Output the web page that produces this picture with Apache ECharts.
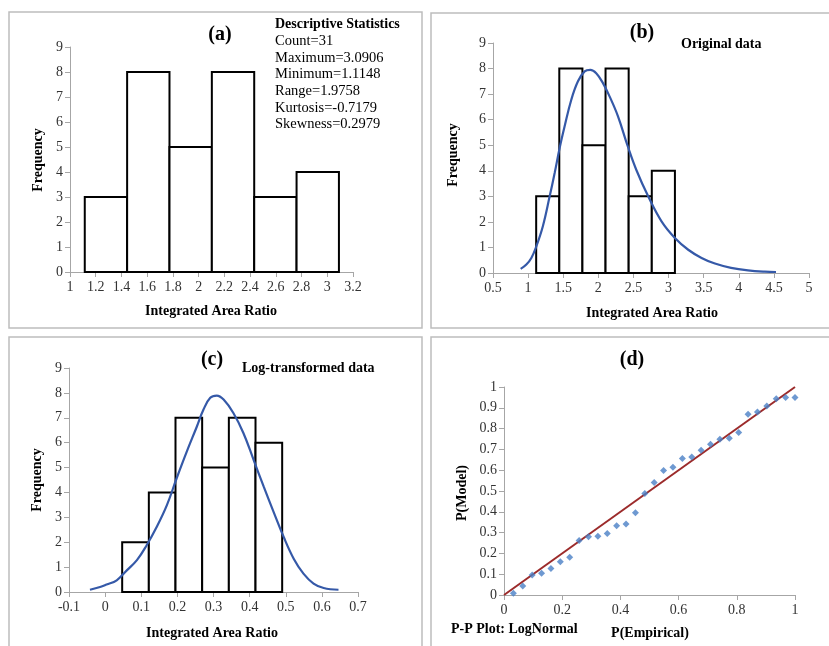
<!DOCTYPE html>
<html>
<head>
<meta charset="utf-8">
<script src="https://cdn.jsdelivr.net/npm/echarts@6/dist/echarts.min.js"></script>
<style>html,body{margin:0;padding:0;background:#fff;}#c{width:829px;height:646px;}</style>
</head>
<body>
<div id="c"></div>
<script>
// ---- data ----
const edgesA = [1.1148, 1.4441, 1.7734, 2.1027, 2.4320, 2.7613, 3.0906];
const countsA = [3, 8, 5, 8, 3, 4];
const statsLines = ["Count=31", "Maximum=3.0906", "Minimum=1.1148", "Range=1.9758", "Kurtosis=-0.7179", "Skewness=0.2979"];

const edgesB = edgesA;
const countsB = countsA;
const curveBx = [0.894, 0.975, 1.046, 1.117, 1.21, 1.307, 1.378, 1.449, 1.52, 1.615, 1.71, 1.805, 1.886, 1.97, 2.066, 2.16, 2.28, 2.42, 2.54, 2.71, 2.90, 3.09, 3.28, 3.47, 3.66, 3.89, 4.13, 4.37, 4.53];
const curveBy = [0.16, 0.33, 0.59, 1.04, 1.83, 3.0, 3.91, 4.89, 5.74, 6.78, 7.5, 7.89, 7.95, 7.82, 7.43, 6.91, 6.13, 4.95, 4.04, 3.0, 2.02, 1.37, 0.91, 0.59, 0.37, 0.20, 0.10, 0.05, 0.04];

const edgesC = [0.0472, 0.1210, 0.1948, 0.2686, 0.3425, 0.4163, 0.4901];
const countsC = [2, 4, 7, 5, 7, 6];
const curveCx = [-0.042, -0.014, 0.004, 0.032, 0.06, 0.088, 0.115, 0.143, 0.171, 0.198, 0.226, 0.254, 0.272, 0.291, 0.309, 0.328, 0.355, 0.383, 0.411, 0.439, 0.466, 0.494, 0.522, 0.549, 0.577, 0.605, 0.646];
const curveCy = [0.09, 0.2, 0.3, 0.47, 0.87, 1.28, 1.88, 2.62, 3.49, 4.57, 5.64, 6.65, 7.32, 7.8, 7.89, 7.73, 7.19, 6.38, 5.31, 4.23, 3.23, 2.22, 1.34, 0.74, 0.34, 0.16, 0.09];

const ppEmp = Array.from({length: 31}, (_, i) => (i + 1) / 31);
const ppModel = [0.008, 0.043, 0.096, 0.104, 0.128, 0.16, 0.181, 0.262, 0.28, 0.283, 0.296, 0.333, 0.341, 0.395, 0.488, 0.541, 0.598, 0.614, 0.656, 0.664, 0.696, 0.725, 0.749, 0.754, 0.781, 0.869, 0.88, 0.909, 0.944, 0.949, 0.949];
const refLine = [[0, 0], [1, 1]];

// ---- helpers ----
const SERIF = '"Liberation Serif", "Times New Roman", serif';
const axisGray = '#a6a6a6';
const labelStyle = {fontFamily: SERIF, fontSize: 14, color: '#333'};

function histData(edges, counts) {
  return counts.map((c, i) => [edges[i], edges[i + 1], c]);
}
function renderBar(params, api) {
  const p0 = api.coord([api.value(0), 0]);
  const p1 = api.coord([api.value(1), api.value(2)]);
  return {type: 'rect', shape: {x: p0[0], y: p1[1], width: p1[0] - p0[0], height: p0[1] - p1[1]},
    style: {fill: '#fff', stroke: '#000', lineWidth: 2}};
}
function xAxis(gi, min, max, interval, margin) {
  return {type: 'value', gridIndex: gi, min, max, interval, splitLine: {show: false},
    axisLine: {show: true, onZero: false, lineStyle: {color: axisGray, width: 1}},
    axisTick: {show: true, length: 5, lineStyle: {color: axisGray}},
    axisLabel: Object.assign({margin: margin || 8, showMinLabel: true, showMaxLabel: true, hideOverlap: false}, labelStyle)};
}
function yAxis(gi, min, max, interval) {
  return {type: 'value', gridIndex: gi, min, max, interval, splitLine: {show: false},
    axisLine: {show: true, onZero: false, lineStyle: {color: axisGray, width: 1}},
    axisTick: {show: true, length: 5, lineStyle: {color: axisGray}},
    axisLabel: Object.assign({margin: 7, showMinLabel: true, showMaxLabel: true}, labelStyle)};
}
function txt(text, x, y, opt) {
  opt = opt || {};
  return {type: 'text', x, y, rotation: opt.rot || 0, z: 100,
    style: {text, fill: opt.color || '#000', font: (opt.bold ? 'bold ' : '') + (opt.size || 14) + 'px ' + SERIF,
      align: opt.align || 'center', verticalAlign: 'middle'}};
}
function box(x, y, w, h) {
  return {type: 'rect', shape: {x, y, width: w, height: h}, z: 0,
    style: {fill: 'none', stroke: '#bdbdbd', lineWidth: 1.5}};
}

const graphics = [
  box(9, 12, 413, 316), box(431, 13, 410, 315), box(9, 337, 413, 312), box(431, 337, 410, 312),
  // panel a
  txt('(a)', 220, 35, {bold: true, size: 20}),
  txt('Frequency', 38, 160, {bold: true, rot: Math.PI / 2}),
  txt('Integrated Area Ratio', 211, 311, {bold: true}),
  txt('Descriptive Statistics', 275, 24, {bold: true, align: 'left'}),
  // panel b
  txt('(b)', 642, 33, {bold: true, size: 20}),
  txt('Original data', 681, 44, {bold: true, align: 'left'}),
  txt('Frequency', 453, 155, {bold: true, rot: Math.PI / 2}),
  txt('Integrated Area Ratio', 652, 313, {bold: true}),
  // panel c
  txt('(c)', 212, 360, {bold: true, size: 20}),
  txt('Log-transformed data', 242, 368, {bold: true, align: 'left'}),
  txt('Frequency', 37, 480, {bold: true, rot: Math.PI / 2}),
  txt('Integrated Area Ratio', 212, 633, {bold: true}),
  // panel d
  txt('(d)', 632, 360, {bold: true, size: 20}),
  txt('P(Model)', 462, 493, {bold: true, rot: Math.PI / 2}),
  txt('P(Empirical)', 650, 633, {bold: true}),
  txt('P-P Plot: LogNormal', 451, 629, {bold: true, align: 'left'})
];
statsLines.forEach((s, i) => graphics.push(txt(s, 275, 41 + i * 16.7, {align: 'left', size: 14.5})));

const chart = echarts.init(document.getElementById('c'), null, {renderer: 'canvas'});
chart.setOption({
  animation: false,
  backgroundColor: '#fff',
  grid: [
    {left: 70, top: 47, width: 283, height: 225},
    {left: 493, top: 43, width: 316, height: 230},
    {left: 69, top: 368, width: 289, height: 224},
    {left: 504, top: 387, width: 291, height: 208}
  ],
  xAxis: [xAxis(0, 1, 3.2, 0.2), xAxis(1, 0.5, 5, 0.5), xAxis(2, -0.1, 0.7, 0.1), xAxis(3, 0, 1, 0.2)],
  yAxis: [yAxis(0, 0, 9, 1), yAxis(1, 0, 9, 1), yAxis(2, 0, 9, 1), yAxis(3, 0, 1, 0.1)],
  graphic: graphics,
  series: [
    {type: 'custom', xAxisIndex: 0, yAxisIndex: 0, data: histData(edgesA, countsA), renderItem: renderBar, encode: {x: [0, 1], y: 2}, z: 2},
    {type: 'custom', xAxisIndex: 1, yAxisIndex: 1, data: histData(edgesB, countsB), renderItem: renderBar, encode: {x: [0, 1], y: 2}, z: 2},
    {type: 'line', xAxisIndex: 1, yAxisIndex: 1, data: curveBx.map((x, i) => [x, curveBy[i]]), smooth: 0.4, showSymbol: false, symbol: 'none',
      lineStyle: {color: '#3559a8', width: 2.2}, z: 5},
    {type: 'custom', xAxisIndex: 2, yAxisIndex: 2, data: histData(edgesC, countsC), renderItem: renderBar, encode: {x: [0, 1], y: 2}, z: 2},
    {type: 'line', xAxisIndex: 2, yAxisIndex: 2, data: curveCx.map((x, i) => [x, curveCy[i]]), smooth: 0.4, showSymbol: false, symbol: 'none',
      lineStyle: {color: '#3559a8', width: 2.2}, z: 5},
    {type: 'line', xAxisIndex: 3, yAxisIndex: 3, data: refLine, showSymbol: false, symbol: 'none',
      lineStyle: {color: '#9c2b2b', width: 2}, z: 3},
    {type: 'scatter', xAxisIndex: 3, yAxisIndex: 3, data: ppEmp.map((x, i) => [x, ppModel[i]]), symbol: 'diamond', symbolSize: 7,
      itemStyle: {color: '#4a7fc6'}, z: 5}
  ]
});
</script>
</body>
</html>
